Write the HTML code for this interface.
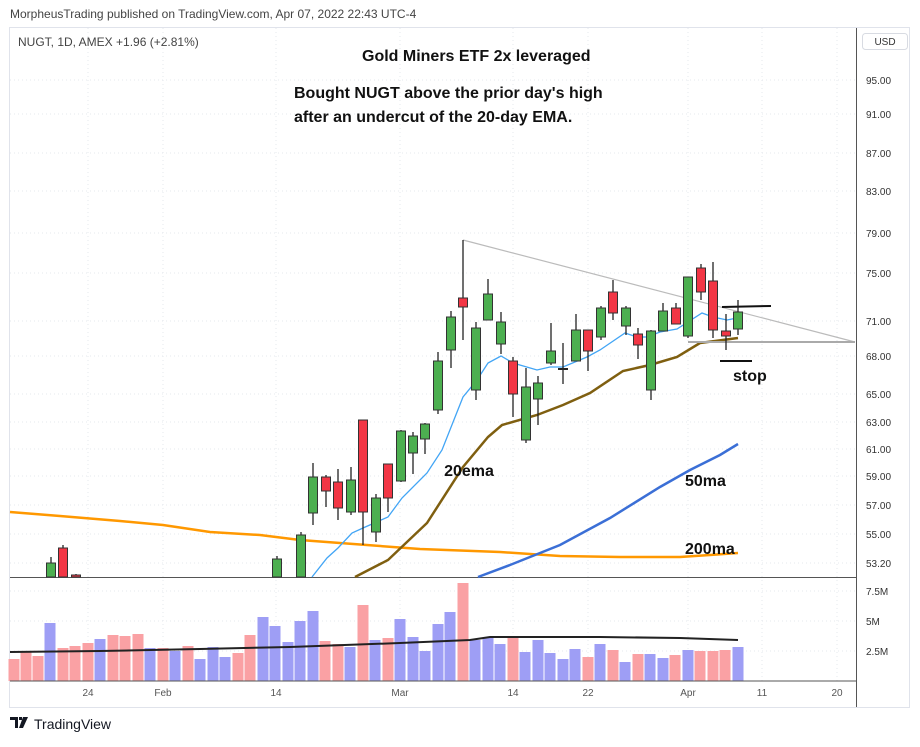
<!DOCTYPE html>
<html><head><meta charset="utf-8"><style>
body{margin:0;background:#fff;width:920px;height:742px;overflow:hidden;font-family:"Liberation Sans",sans-serif}
</style></head><body>
<svg id="s" width="920" height="742" xmlns="http://www.w3.org/2000/svg" font-family="Liberation Sans, sans-serif">
<text x="10" y="18" font-size="12" fill="#444">MorpheusTrading published on TradingView.com, Apr 07, 2022 22:43 UTC-4</text>
<rect x="9.5" y="27.5" width="900" height="680" fill="none" stroke="#e0e3eb"/>
<g id="grid" stroke="#e6e8ee" stroke-dasharray="1,3"></g>
<text x="18" y="46" font-size="12" fill="#444">NUGT, 1D, AMEX  +1.96 (+2.81%)</text>
<g id="vol"></g>
<polyline fill="none" stroke="#222" stroke-width="2" points="10,652 100,651 200,649 290,647 400,643 470,640 490,637 600,637 680,638 738,640"/>
<line x1="10" y1="577.5" x2="856" y2="577.5" stroke="#555"/>
<line x1="10" y1="681" x2="856" y2="681" stroke="#555"/>
<line x1="856.5" y1="28" x2="856.5" y2="707" stroke="#555"/>
<polyline fill="none" stroke="#ff9800" stroke-width="2.5" points="10,512 60,516 120,521 163,525 210,532 260,535 300,540 340,543 420,549 500,552 560,556 620,557 680,557 710,555 738,553"/>
<polyline fill="none" stroke="#3b6fd6" stroke-width="2.5" points="478,577 510,565 560,545 610,518 660,487 690,470 720,455 738,444"/>
<polyline fill="none" stroke="#7f5f10" stroke-width="2.5" points="355,577 388,560 427,523 463,467 488,437 502,425 537,415 563,405 590,393 623,371 650,365 677,357 700,343 738,338"/>
<polyline fill="none" stroke="#42a5f5" stroke-width="1.3" points="312,577 327,558 338,548 352,533 363,528 388,517 402,498 427,473 442,450 463,397 477,380 488,363 501,356 513,363 537,370 550,367 563,367 587,357 600,350 625,333 637,337 647,337 660,332 677,329 702,313 713,317 727,320 737,318"/>
<line x1="463" y1="240" x2="855" y2="342" stroke="#bbb" stroke-width="1.2"/>
<line x1="688" y1="342" x2="855" y2="342" stroke="#aaa" stroke-width="2"/>
<line x1="722" y1="307" x2="771" y2="306" stroke="#111" stroke-width="2"/>
<line x1="720" y1="361" x2="752" y2="361" stroke="#111" stroke-width="2"/>
<g id="candles"></g>
<g font-weight="bold" fill="#111" font-size="16">
<text x="362" y="61">Gold Miners ETF 2x leveraged</text>
<text x="294" y="98">Bought NUGT above the prior day's high</text>
<text x="294" y="122">after an undercut of the 20-day EMA.</text>
<text x="469" y="476" text-anchor="middle">20ema</text>
<text x="685" y="486">50ma</text>
<text x="685" y="554">200ma</text>
<text x="733" y="381">stop</text>
</g>
<g id="ax" font-size="10" fill="#333"></g>
<rect x="862.5" y="33.5" width="45" height="16" rx="3" fill="#fff" stroke="#d8dbe2"/>
<text x="885" y="45" font-size="10" fill="#333" text-anchor="middle">USD</text>
<g transform="translate(10,717)"><path d="M0 0h8v11h-3v-8h-5z M9 0h3v3h-3z M13 0h5l-5 11h-4z" fill="#131722"/></g>
<text x="34" y="729" font-size="14" fill="#131722">TradingView</text>
</svg>
<script>
const NS="http://www.w3.org/2000/svg";
function el(p,t,a){const e=document.createElementNS(NS,t);for(const k in a)e.setAttribute(k,a[k]);document.getElementById(p).appendChild(e);return e;}
const prices=[["95.00",80],["91.00",114],["87.00",153],["83.00",191],["79.00",233],["75.00",273],["71.00",321],["68.00",356],["65.00",394],["63.00",422],["61.00",449],["59.00",476],["57.00",505],["55.00",534],["53.20",563]];
prices.forEach(([t,y])=>{el("grid","line",{x1:10,y1:y,x2:856,y2:y});const tx=el("ax","text",{x:866,y:y+4});tx.textContent=t;});
[[591,"7.5M"],[621,"5M"],[651,"2.5M"]].forEach(([y,t])=>{el("grid","line",{x1:10,y1:y,x2:856,y2:y});const tx=el("ax","text",{x:866,y:y+4});tx.textContent=t;});
[[88,"24"],[163,"Feb"],[276,"14"],[400,"Mar"],[513,"14"],[588,"22"],[688,"Apr"],[762,"11"],[837,"20"]].forEach(([x,t])=>{el("grid","line",{x1:x,y1:28,x2:x,y2:681});const tx=el("ax","text",{x:x,y:696,"text-anchor":"middle",fill:"#555"});tx.textContent=t;});
const P="#faa1a4",B="#9e9ef5";
const vols=[[14,659,P],[26,652,P],[38,656,P],[50,623,B],[63,648,P],[75,646,P],[88,643,P],[100,639,B],[113,635,P],[125,636,P],[138,634,P],[150,648,B],[163,648,P],[175,651,B],[188,646,P],[200,659,B],[213,647,B],[225,657,B],[238,653,P],[250,635,P],[263,617,B],[275,626,B],[288,642,B],[300,621,B],[313,611,B],[325,641,P],[338,644,P],[350,647,B],[363,605,P],[375,640,B],[388,638,P],[400,619,B],[413,637,B],[425,651,B],[438,624,B],[450,612,B],[463,583,P],[475,640,B],[488,638,B],[500,644,B],[513,638,P],[525,652,B],[538,640,B],[550,653,B],[563,659,B],[575,649,B],[588,657,P],[600,644,B],[613,650,P],[625,662,B],[638,654,P],[650,654,B],[663,658,B],[675,655,P],[688,650,B],[700,651,P],[713,651,P],[725,650,P],[738,647,B]];
vols.forEach(([x,y,c])=>el("vol","rect",{x:x-5.5,y:y,width:11,height:681-y,fill:c}));
const G="#4caf50",R="#f23645";
const cs=[[51,557,563,577,577,G],[63,545,548,577,577,R],[76,574,575,577,577,R],
[277,556,559,577,577,G],[301,532,535,577,577,G],[313,463,477,513,525,G],[326,475,477,491,507,R],[338,469,482,508,520,R],[351,467,480,512,515,G],[363,420,420,512,545,R],[376,494,498,532,542,G],[388,464,464,498,512,R],[401,430,431,481,482,G],[413,432,436,453,474,G],[425,423,424,439,454,G],[438,352,361,410,414,G],[451,311,317,350,368,G],[463,240,298,307,340,R],[476,322,328,390,400,G],[488,279,294,320,320,G],[501,312,322,344,354,G],[513,357,361,394,417,R],[526,368,387,440,443,G],[538,376,383,399,425,G],[551,323,351,363,365,G],[563,343,369,371,384,B],[576,314,330,361,361,G],[588,330,330,351,371,R],[601,306,308,337,340,G],[613,280,292,313,320,R],[626,306,308,326,335,G],[638,328,334,345,359,R],[651,330,331,390,400,G],[663,303,311,331,331,G],[676,303,308,324,324,R],[688,277,277,336,338,G],[701,264,268,292,300,R],[713,262,281,330,338,R],[726,314,331,336,350,R],[738,300,312,329,335,G]];
cs.forEach(([x,h,t,b,l,c])=>{
 if(c===B){el("candles","line",{x1:x,y1:h,x2:x,y2:l,stroke:"#222","stroke-width":1.3});el("candles","line",{x1:x-5,y1:t,x2:x+5,y2:t,stroke:"#222","stroke-width":2});return;}
 el("candles","line",{x1:x,y1:h,x2:x,y2:l,stroke:"#222","stroke-width":1.3});
 el("candles","rect",{x:x-4.5,y:t,width:9,height:Math.max(b-t,2),fill:c,stroke:"#333","stroke-width":1});
});
</script>
</body></html>
